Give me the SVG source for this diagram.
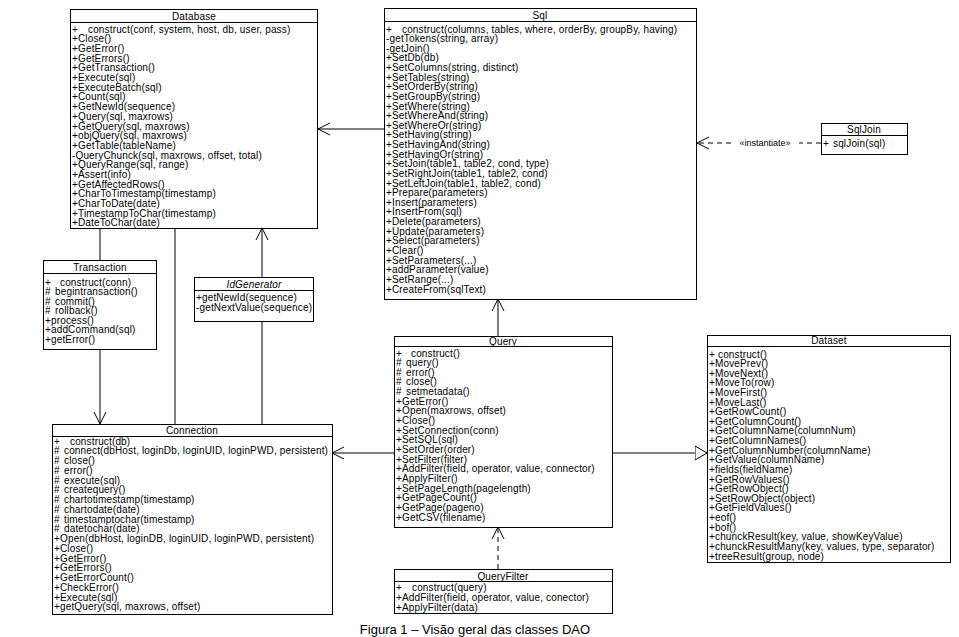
<svg xmlns="http://www.w3.org/2000/svg" width="959" height="637" viewBox="0 0 959 637">
<defs>
<style>
.box{fill:#fff;stroke:#000;stroke-width:1}
.sep{stroke:#000;stroke-width:1}
.t{font-family:"Liberation Sans",Arial,sans-serif;font-size:10px;letter-spacing:0.15px;fill:#000}
.h{font-family:"Liberation Sans",Arial,sans-serif;font-size:10px;letter-spacing:0.15px;fill:#000;text-anchor:middle}
.c{stroke:#000;stroke-width:1;fill:none}
.d{stroke:#000;stroke-width:1;fill:none;stroke-dasharray:5,4}
.lbl{font-family:"Liberation Sans",Arial,sans-serif;font-size:9px;fill:#000;text-anchor:middle}
.cap{font-family:"Liberation Sans",Arial,sans-serif;font-size:13px;fill:#000;text-anchor:middle}
</style>
<marker id="open" markerUnits="userSpaceOnUse" markerWidth="14" markerHeight="14" refX="12" refY="6" orient="auto" viewBox="0 0 14 12">
<path d="M0,0 L12,6 L0,12" fill="none" stroke="#000" stroke-width="1"/>
</marker>
<marker id="tri" markerUnits="userSpaceOnUse" markerWidth="14" markerHeight="16" refX="12" refY="7" orient="auto" viewBox="0 0 14 14">
<path d="M0,0 L12,7 L0,14 Z" fill="#fff" stroke="#000" stroke-width="1"/>
</marker>
</defs>
<rect width="959" height="637" fill="#fff"/>

<g id="connectors">
<line class="c" x1="384" y1="129" x2="318" y2="129" marker-end="url(#open)"/>
<line class="d" x1="731" y1="143" x2="697" y2="143" marker-end="url(#open)"/>
<line class="d" x1="821" y1="143" x2="799" y2="143"/>
<text class="lbl" x="765" y="146">«instantiate»</text>
<line class="c" x1="100" y1="228" x2="100" y2="260"/>
<line class="c" x1="100" y1="349" x2="100" y2="424" marker-end="url(#open)"/>
<line class="c" x1="175" y1="228" x2="175" y2="424"/>
<line class="c" x1="262" y1="277" x2="262" y2="228" marker-end="url(#open)"/>
<line class="c" x1="262" y1="321" x2="262" y2="424"/>
<line class="c" x1="498" y1="336" x2="498" y2="299" marker-end="url(#open)"/>
<line class="c" x1="394" y1="453" x2="332" y2="453" marker-end="url(#open)"/>
<line class="c" x1="612" y1="453" x2="707" y2="453" marker-end="url(#tri)"/>
<line class="d" x1="498" y1="569" x2="498" y2="527" marker-end="url(#open)"/>
</g>

<g id="Database">
<rect class="box" x="70.5" y="9.5" width="247" height="219"/>
<line class="sep" x1="70.5" y1="22.5" x2="317.5" y2="22.5"/>
<text class="h" x="194" y="19.5">Database</text>
<text class="t" x="72" y="32.5"><tspan x="72" dy="0">+</tspan><tspan x="88">construct(conf, system, host, db, user, pass)</tspan><tspan x="72" dy="9.7">+Close()</tspan><tspan x="72" dy="9.7">+GetError()</tspan><tspan x="72" dy="9.7">+GetErrors()</tspan><tspan x="72" dy="9.7">+GetTransaction()</tspan><tspan x="72" dy="9.7">+Execute(sql)</tspan><tspan x="72" dy="9.7">+ExecuteBatch(sql)</tspan><tspan x="72" dy="9.7">+Count(sql)</tspan><tspan x="72" dy="9.7">+GetNewId(sequence)</tspan><tspan x="72" dy="9.7">+Query(sql, maxrows)</tspan><tspan x="72" dy="9.7">+GetQuery(sql, maxrows)</tspan><tspan x="72" dy="9.7">+objQuery(sql, maxrows)</tspan><tspan x="72" dy="9.7">+GetTable(tableName)</tspan><tspan x="72" dy="9.7">-QueryChunck(sql, maxrows, offset, total)</tspan><tspan x="72" dy="9.7">+QueryRange(sql, range)</tspan><tspan x="72" dy="9.7">+Assert(info)</tspan><tspan x="72" dy="9.7">+GetAffectedRows()</tspan><tspan x="72" dy="9.7">+CharToTimestamp(timestamp)</tspan><tspan x="72" dy="9.7">+CharToDate(date)</tspan><tspan x="72" dy="9.7">+TimestampToChar(timestamp)</tspan><tspan x="72" dy="9.7">+DateToChar(date)</tspan></text>
</g>

<g id="Sql">
<rect class="box" x="384.5" y="8.5" width="312" height="291"/>
<line class="sep" x1="384.5" y1="21.5" x2="696.5" y2="21.5"/>
<text class="h" x="540" y="18.5">Sql</text>
<text class="t" x="386" y="32.5"><tspan x="386" dy="0">+</tspan><tspan x="402">construct(columns, tables, where, orderBy, groupBy, having)</tspan><tspan x="386" dy="9.63">-getTokens(string, array)</tspan><tspan x="386" dy="9.63">-getJoin()</tspan><tspan x="386" dy="9.63">+SetDb(db)</tspan><tspan x="386" dy="9.63">+SetColumns(string, distinct)</tspan><tspan x="386" dy="9.63">+SetTables(string)</tspan><tspan x="386" dy="9.63">+SetOrderBy(string)</tspan><tspan x="386" dy="9.63">+SetGroupBy(string)</tspan><tspan x="386" dy="9.63">+SetWhere(string)</tspan><tspan x="386" dy="9.63">+SetWhereAnd(string)</tspan><tspan x="386" dy="9.63">+SetWhereOr(string)</tspan><tspan x="386" dy="9.63">+SetHaving(string)</tspan><tspan x="386" dy="9.63">+SetHavingAnd(string)</tspan><tspan x="386" dy="9.63">+SetHavingOr(string)</tspan><tspan x="386" dy="9.63">+SetJoin(table1, table2, cond, type)</tspan><tspan x="386" dy="9.63">+SetRightJoin(table1, table2, cond)</tspan><tspan x="386" dy="9.63">+SetLeftJoin(table1, table2, cond)</tspan><tspan x="386" dy="9.63">+Prepare(parameters)</tspan><tspan x="386" dy="9.63">+Insert(parameters)</tspan><tspan x="386" dy="9.63">+InsertFrom(sql)</tspan><tspan x="386" dy="9.63">+Delete(parameters)</tspan><tspan x="386" dy="9.63">+Update(parameters)</tspan><tspan x="386" dy="9.63">+Select(parameters)</tspan><tspan x="386" dy="9.63">+Clear()</tspan><tspan x="386" dy="9.63">+SetParameters(...)</tspan><tspan x="386" dy="9.63">+addParameter(value)</tspan><tspan x="386" dy="9.63">+SetRange(...)</tspan><tspan x="386" dy="9.63">+CreateFrom(sqlText)</tspan></text>
</g>

<g id="SqlJoin">
<rect class="box" x="821.5" y="123.5" width="86" height="31"/>
<line class="sep" x1="821.5" y1="135.5" x2="907.5" y2="135.5"/>
<text class="h" x="864" y="132.5">SqlJoin</text>
<text class="t" x="823" y="146.5">+</text>
<text class="t" x="833" y="146.5">sqlJoin(sql)</text>
</g>

<g id="Transaction">
<rect class="box" x="43.5" y="260.5" width="113" height="89"/>
<line class="sep" x1="43.5" y1="273.5" x2="156.5" y2="273.5"/>
<text class="h" x="100" y="270.5">Transaction</text>
<text class="t" x="45" y="285.5"><tspan x="45" dy="0">+</tspan><tspan x="60">construct(conn)</tspan><tspan x="45" dy="9.5">#</tspan><tspan x="55">begintransaction()</tspan><tspan x="45" dy="9.5">#</tspan><tspan x="55">commit()</tspan><tspan x="45" dy="9.5">#</tspan><tspan x="55">rollback()</tspan><tspan x="45" dy="9.5">+process()</tspan><tspan x="45" dy="9.5">+addCommand(sql)</tspan><tspan x="45" dy="9.5">+getError()</tspan></text>
</g>

<g id="IdGenerator">
<rect class="box" x="194.5" y="277.5" width="119" height="44"/>
<line class="sep" x1="194.5" y1="290.5" x2="313.5" y2="290.5"/>
<text class="h" x="254" y="287.5" font-style="italic">IdGenerator</text>
<text class="t" x="196" y="300.5"><tspan x="196" dy="0">+getNewId(sequence)</tspan><tspan x="196" dy="10">-getNextValue(sequence)</tspan></text>
</g>

<g id="Connection">
<rect class="box" x="52.5" y="424.5" width="280" height="190"/>
<line class="sep" x1="52.5" y1="436.5" x2="332.5" y2="436.5"/>
<text class="h" x="192" y="433.5">Connection</text>
<text class="t" x="54" y="444.5"><tspan x="54" dy="0">+</tspan><tspan x="70">construct(db)</tspan><tspan x="54" dy="9.76">#</tspan><tspan x="64">connect(dbHost, loginDb, loginUID, loginPWD, persistent)</tspan><tspan x="54" dy="9.76">#</tspan><tspan x="64">close()</tspan><tspan x="54" dy="9.76">#</tspan><tspan x="64">error()</tspan><tspan x="54" dy="9.76">#</tspan><tspan x="64">execute(sql)</tspan><tspan x="54" dy="9.76">#</tspan><tspan x="64">createquery()</tspan><tspan x="54" dy="9.76">#</tspan><tspan x="64">chartotimestamp(timestamp)</tspan><tspan x="54" dy="9.76">#</tspan><tspan x="64">chartodate(date)</tspan><tspan x="54" dy="9.76">#</tspan><tspan x="64">timestamptochar(timestamp)</tspan><tspan x="54" dy="9.76">#</tspan><tspan x="64">datetochar(date)</tspan><tspan x="54" dy="9.76">+Open(dbHost, loginDB, loginUID, loginPWD, persistent)</tspan><tspan x="54" dy="9.76">+Close()</tspan><tspan x="54" dy="9.76">+GetError()</tspan><tspan x="54" dy="9.76">+GetErrors()</tspan><tspan x="54" dy="9.76">+GetErrorCount()</tspan><tspan x="54" dy="9.76">+CheckError()</tspan><tspan x="54" dy="9.76">+Execute(sql)</tspan><tspan x="54" dy="9.76">+getQuery(sql, maxrows, offset)</tspan></text>
</g>

<g id="Query">
<rect class="box" x="394.5" y="336.5" width="218" height="191"/>
<line class="sep" x1="394.5" y1="346.5" x2="612.5" y2="346.5"/>
<text class="h" x="503" y="344.5">Query</text>
<text class="t" x="396" y="356.5"><tspan x="396" dy="0">+</tspan><tspan x="411">construct()</tspan><tspan x="396" dy="9.65">#</tspan><tspan x="406">query()</tspan><tspan x="396" dy="9.65">#</tspan><tspan x="406">error()</tspan><tspan x="396" dy="9.65">#</tspan><tspan x="406">close()</tspan><tspan x="396" dy="9.65">#</tspan><tspan x="406">setmetadata()</tspan><tspan x="396" dy="9.65">+GetError()</tspan><tspan x="396" dy="9.65">+Open(maxrows, offset)</tspan><tspan x="396" dy="9.65">+Close()</tspan><tspan x="396" dy="9.65">+SetConnection(conn)</tspan><tspan x="396" dy="9.65">+SetSQL(sql)</tspan><tspan x="396" dy="9.65">+SetOrder(order)</tspan><tspan x="396" dy="9.65">+SetFilter(filter)</tspan><tspan x="396" dy="9.65">+AddFilter(field, operator, value, connector)</tspan><tspan x="396" dy="9.65">+ApplyFilter()</tspan><tspan x="396" dy="9.65">+SetPageLength(pagelength)</tspan><tspan x="396" dy="9.65">+GetPageCount()</tspan><tspan x="396" dy="9.65">+GetPage(pageno)</tspan><tspan x="396" dy="9.65">+GetCSV(filename)</tspan></text>
</g>

<g id="QueryFilter">
<rect class="box" x="394.5" y="569.5" width="218" height="44"/>
<line class="sep" x1="394.5" y1="581.5" x2="612.5" y2="581.5"/>
<text class="h" x="503" y="579.5">QueryFilter</text>
<text class="t" x="396" y="590.5"><tspan x="396" dy="0">+</tspan><tspan x="412">construct(query)</tspan><tspan x="396" dy="10">+AddFilter(field, operator, value, conector)</tspan><tspan x="396" dy="10">+ApplyFilter(data)</tspan></text>
</g>

<g id="Dataset">
<rect class="box" x="707.5" y="335.5" width="243" height="227"/>
<line class="sep" x1="707.5" y1="346.5" x2="950.5" y2="346.5"/>
<text class="h" x="829" y="344">Dataset</text>
<text class="t" x="709" y="357.5"><tspan x="709" dy="0">+</tspan><tspan x="718">construct()</tspan><tspan x="709" dy="9.62">+MovePrev()</tspan><tspan x="709" dy="9.62">+MoveNext()</tspan><tspan x="709" dy="9.62">+MoveTo(row)</tspan><tspan x="709" dy="9.62">+MoveFirst()</tspan><tspan x="709" dy="9.62">+MoveLast()</tspan><tspan x="709" dy="9.62">+GetRowCount()</tspan><tspan x="709" dy="9.62">+GetColumnCount()</tspan><tspan x="709" dy="9.62">+GetColumnName(columnNum)</tspan><tspan x="709" dy="9.62">+GetColumnNames()</tspan><tspan x="709" dy="9.62">+GetColumnNumber(columnName)</tspan><tspan x="709" dy="9.62">+GetValue(columnName)</tspan><tspan x="709" dy="9.62">+fields(fieldName)</tspan><tspan x="709" dy="9.62">+GetRowValues()</tspan><tspan x="709" dy="9.62">+GetRowObject()</tspan><tspan x="709" dy="9.62">+SetRowObject(object)</tspan><tspan x="709" dy="9.62">+GetFieldValues()</tspan><tspan x="709" dy="9.62">+eof()</tspan><tspan x="709" dy="9.62">+bof()</tspan><tspan x="709" dy="9.62">+chunckResult(key, value, showKeyValue)</tspan><tspan x="709" dy="9.62">+chunckResultMany(key, values, type, separator)</tspan><tspan x="709" dy="9.62">+treeResult(group, node)</tspan></text>
</g>

<text class="cap" x="475" y="634">Figura 1 – Visão geral das classes DAO</text>
</svg>
